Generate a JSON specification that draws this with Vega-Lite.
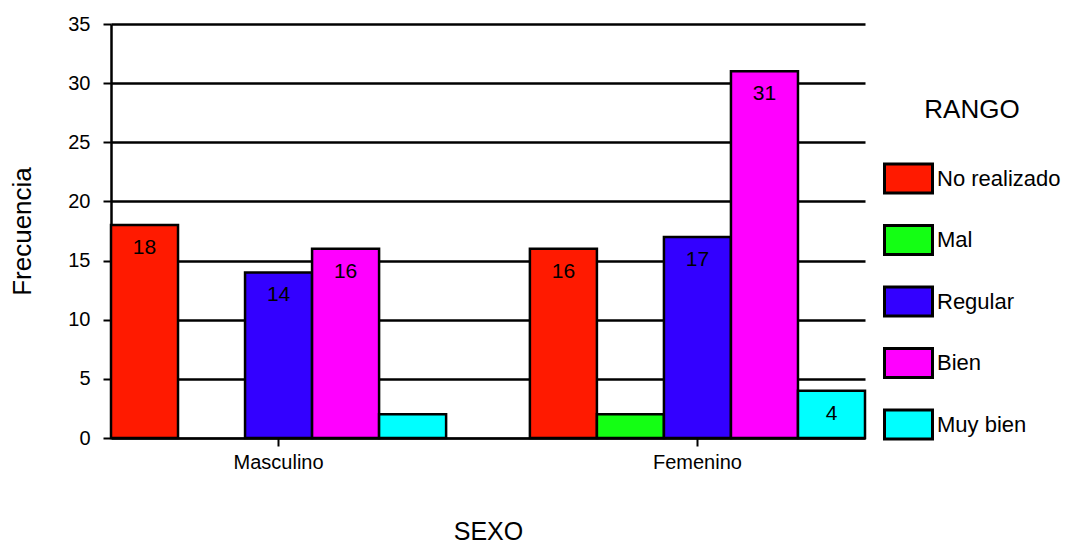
{
  "$schema": "https://vega.github.io/schema/vega-lite/v6.json",
  "width": 754,
  "height": 414,
  "autosize": {"type": "none"},
  "padding": {"left": 111, "top": 24, "right": 202, "bottom": 106},
  "background": "white",
  "config": {"view": {"stroke": null}, "font": "Liberation Sans"},
  "data": {
    "values": [
      {"SEXO": "Masculino", "RANGO": "No realizado", "Frecuencia": 18},
      {"SEXO": "Masculino", "RANGO": "Regular", "Frecuencia": 14},
      {"SEXO": "Masculino", "RANGO": "Bien", "Frecuencia": 16},
      {"SEXO": "Masculino", "RANGO": "Muy bien", "Frecuencia": 2},
      {"SEXO": "Femenino", "RANGO": "No realizado", "Frecuencia": 16},
      {"SEXO": "Femenino", "RANGO": "Mal", "Frecuencia": 2},
      {"SEXO": "Femenino", "RANGO": "Regular", "Frecuencia": 17},
      {"SEXO": "Femenino", "RANGO": "Bien", "Frecuencia": 31},
      {"SEXO": "Femenino", "RANGO": "Muy bien", "Frecuencia": 4}
    ]
  },
  "encoding": {
    "x": {
      "field": "SEXO", "type": "nominal", "sort": ["Masculino", "Femenino"],
      "scale": {"paddingInner": 0.2, "paddingOuter": 0},
      "axis": {
        "labelAngle": 0, "labelFontSize": 20, "labelColor": "black", "labelPadding": 6,
        "domain": true, "domainColor": "black", "domainWidth": 2,
        "ticks": true, "tickColor": "black", "tickSize": 8, "tickWidth": 2,
        "title": "SEXO", "titleFontSize": 25, "titleFontWeight": "normal", "titleColor": "black",
        "titleX": 377, "titleY": 93, "titleBaseline": "middle", "titleAlign": "center"
      }
    },
    "xOffset": {
      "field": "RANGO", "type": "nominal",
      "scale": {"domain": ["No realizado", "Mal", "Regular", "Bien", "Muy bien"], "paddingInner": 0, "paddingOuter": 0}
    },
    "y": {
      "field": "Frecuencia", "type": "quantitative",
      "scale": {"domain": [0, 35]},
      "axis": {
        "values": [0, 5, 10, 15, 20, 25, 30, 35],
        "grid": true, "gridColor": "black", "gridWidth": 2.5, "gridOpacity": 1,
        "domainColor": "black", "domainWidth": 2.5,
        "tickColor": "black", "tickSize": 8, "tickWidth": 2,
        "labelFontSize": 20, "labelColor": "black", "labelPadding": 13,
        "title": "Frecuencia", "titleFontSize": 26, "titleFontWeight": "normal", "titleColor": "black",
        "titleX": -89, "titleY": 207, "titleAngle": -90, "titleBaseline": "middle", "titleAlign": "center"
      }
    }
  },
  "layer": [
    {
      "mark": {"type": "bar", "stroke": "black", "strokeWidth": 2.5},
      "encoding": {
        "color": {
          "field": "RANGO", "type": "nominal",
          "scale": {
            "domain": ["No realizado", "Mal", "Regular", "Bien", "Muy bien"],
            "range": ["#ff1a00", "#14ff14", "#3300ff", "#ff00ff", "#00ffff"]
          },
          "legend": {
            "title": "RANGO", "orient": "none", "legendX": 772, "legendY": 73, "padding": 0,
            "titleFontSize": 26, "titleFontWeight": "normal", "titleColor": "black",
            "titleAnchor": "middle", "titlePadding": 30,
            "symbolType": "M-1,-0.6H1V0.6H-1Z", "symbolSize": 2304,
            "symbolStrokeColor": "black", "symbolStrokeWidth": 3, "symbolOpacity": 1,
            "labelFontSize": 22, "labelColor": "black", "labelOffset": 3, "labelLimit": 300,
            "rowPadding": 15.5
          }
        }
      }
    },
    {
      "transform": [{"filter": "datum.Frecuencia > 2"}],
      "mark": {"type": "text", "dy": 23, "fontSize": 21, "baseline": "middle", "color": "black"},
      "encoding": {"text": {"field": "Frecuencia", "type": "quantitative"}}
    }
  ]
}
